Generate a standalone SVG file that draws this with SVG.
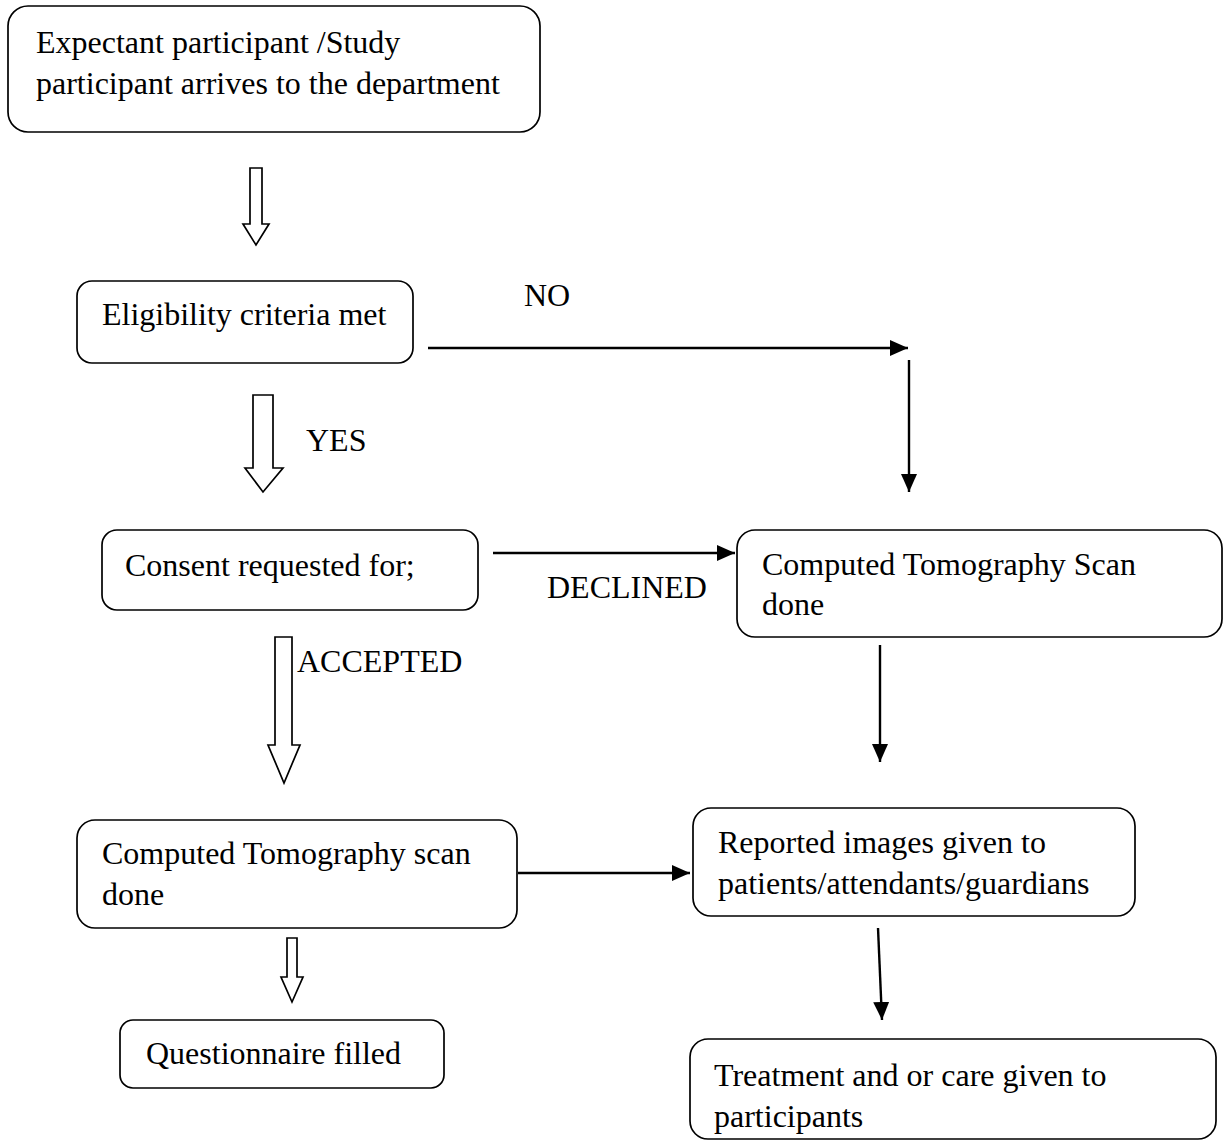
<svg xmlns="http://www.w3.org/2000/svg" width="1227" height="1144" viewBox="0 0 1227 1144">
<style>
.box{fill:#fff;stroke:#000;stroke-width:1.7}
.t{font-family:"Liberation Serif","Times New Roman",serif;font-size:32px;fill:#000}
.hollow{fill:#fff;stroke:#000;stroke-width:1.7;stroke-linejoin:miter}
.ln{stroke:#000;stroke-width:2.4;fill:none}
</style>
<defs>
<marker id="ah" markerUnits="userSpaceOnUse" markerWidth="20" markerHeight="18" refX="18" refY="8" orient="auto">
<path d="M0,0 L18,8 L0,16 z" fill="#000"/>
</marker>
</defs>
<rect width="1227" height="1144" fill="#fff"/>
<g id="n1"><rect class="box" x="8" y="6" width="532" height="126" rx="20"/>
<text class="t" x="36" y="53">Expectant participant /Study</text>
<text class="t" x="36" y="94">participant arrives to the department</text></g>
<g id="n2"><rect class="box" x="77" y="281" width="336" height="82" rx="15"/>
<text class="t" x="102" y="325">Eligibility criteria met</text></g>
<g id="n3"><rect class="box" x="102" y="530" width="376" height="80" rx="15"/>
<text class="t" x="125" y="576">Consent requested for;</text></g>
<g id="n4"><rect class="box" x="737" y="530" width="485" height="107" rx="18"/>
<text class="t" x="762" y="575">Computed Tomography Scan</text>
<text class="t" x="762" y="615">done</text></g>
<g id="n5"><rect class="box" x="77" y="820" width="440" height="108" rx="18"/>
<text class="t" x="102" y="864">Computed Tomography scan</text>
<text class="t" x="102" y="905">done</text></g>
<g id="n6"><rect class="box" x="693" y="808" width="442" height="108" rx="18"/>
<text class="t" x="718" y="853">Reported images given to</text>
<text class="t" x="718" y="894">patients/attendants/guardians</text></g>
<g id="n7"><rect class="box" x="120" y="1020" width="324" height="68" rx="13"/>
<text class="t" x="146" y="1064">Questionnaire filled</text></g>
<g id="n8"><rect class="box" x="690" y="1039" width="526" height="100" rx="18"/>
<text class="t" x="714" y="1086">Treatment and or care given to</text>
<text class="t" x="714" y="1127">participants</text></g>
<g id="connectors">
<polygon class="hollow" points="250,168 262,168 262,224 269,224 256,245 243,224 250,224"/>
<polygon class="hollow" points="253,395 273,395 273,468 283,468 263,492 245,468 253,468"/>
<polygon class="hollow" points="275,637 292,637 292,745 300,745 284,783 268,745 275,745"/>
<polygon class="hollow" points="287,938 297,938 297,977 303,977 292,1002 281,977 287,977"/>
<line class="ln" x1="428" y1="348" x2="908" y2="348" marker-end="url(#ah)"/>
<line class="ln" x1="909" y1="360" x2="909" y2="492" marker-end="url(#ah)"/>
<line class="ln" x1="493" y1="553" x2="735" y2="553" marker-end="url(#ah)"/>
<line class="ln" x1="880" y1="645" x2="880" y2="762" marker-end="url(#ah)"/>
<line class="ln" x1="518" y1="873" x2="690" y2="873" marker-end="url(#ah)"/>
<line class="ln" x1="878" y1="928" x2="882" y2="1020" marker-end="url(#ah)"/>
<text class="t" x="524" y="306">NO</text>
<text class="t" x="306" y="451">YES</text>
<text class="t" x="547" y="598">DECLINED</text>
<text class="t" x="297" y="672">ACCEPTED</text>
</g>
</svg>
